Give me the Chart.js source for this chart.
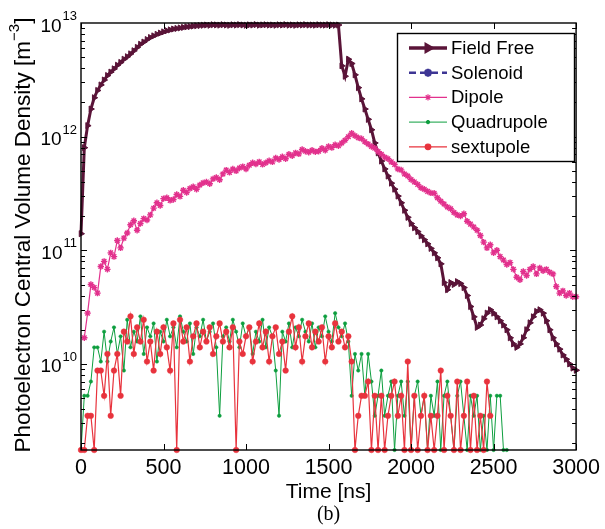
<!DOCTYPE html>
<html>
<head>
<meta charset="utf-8">
<script src="https://cdn.jsdelivr.net/npm/chart.js@4.4.1/dist/chart.umd.min.js"></script>
<style>
  html, body { margin: 0; padding: 0; background: #fff; }
  #wrap { width: 605px; height: 529px; position: relative; }
</style>
</head>
<body>
<div id="wrap"><canvas id="chart"></canvas></div>
<script>
// densities are in units of 1e9 m^-3, sampled every 20 ns
const timeNs = Array.from({ length: 151 }, (_, i) => i * 20);

const fieldFree = [
  140, 800, 1250, 1750, 2200, 2550, 2850, 3150, 3450, 3700,
  3950, 4250, 4500, 4800, 5050, 5350, 5700, 6100, 6500, 6800,
  7150, 7450, 7700, 7950, 8150, 8350, 8550, 8700, 8850, 8950,
  9050, 9150, 9250, 9300, 9400, 9450, 9500, 9550, 9600, 9550,
  9650, 9620, 9580, 9660, 9600, 9550, 9640, 9590, 9670, 9610,
  9560, 9630, 9600, 9680, 9570, 9620, 9650, 9590, 9610, 9560,
  9640, 9600, 9670, 9580, 9620, 9550, 9630, 9600, 9660, 9590,
  9610, 9570, 9640, 9600, 9580, 9650, 9610, 9560, 9600, 4200,
  3400, 4800, 4400, 3500, 2700, 2150, 1750, 1420, 1150, 880,
  720, 610, 520, 450, 390, 345, 300, 262, 225, 195,
  172, 158, 146, 134, 124, 114, 104, 95, 86, 76,
  52, 45, 52, 50, 53, 51, 47, 40, 32, 26,
  21, 22, 25, 28, 30, 28, 26, 24, 22, 20,
  17, 15, 14, 15, 17, 20, 23, 26, 29, 30,
  28, 24, 20, 17, 15, 13.5, 12, 11, 10, 9.2,
  8.8
];

// solenoid density is zero throughout, so nothing shows on the log axis
const solenoid = [];

const dipole = [
  null, 17, 28, 50, 47, 42, 72, 80, 68, 95,
  88, 122, 105, 128, 142, 168, 182, 150, 172, 190,
  185, 205, 235, 262, 248, 285, 290, 275, 280, 310,
  298, 338, 322, 350, 362, 345, 375, 392, 400, 385,
  425, 438, 418, 470, 508, 485, 520, 500, 530, 545,
  520, 560, 590, 575, 600, 570, 590, 615, 600, 650,
  630, 665, 640, 700, 680, 720, 705, 770, 745, 730,
  760, 735, 745, 790, 760, 820, 800, 850, 830, 880,
  930, 1000, 1070, 1020, 980, 960, 900, 860, 820, 790,
  740, 700, 660, 640, 600, 570, 520, 510, 470, 450,
  420, 400, 380, 355, 345, 330, 320, 318, 290, 270,
  255, 240, 232, 215, 205, 200, 210, 180, 170, 160,
  150, 135, 118, 105, 112, 95, 100, 88, 82, 75,
  78, 68, 58, 55, 65, 60, 68, 72, 62, 70,
  66, 68, 64, 62, 48, 42, 44, 40, 42, 39,
  39
];

const quadrupole = [
  1.75, 5.25, 5.25, 7, 14, 14, 10.5, 19.25, 10.5, 15.75,
  21, 12.25, 17.5, 8.75, 24.5, 14, 19.25, 15.75, 26.25, 12.25,
  21, 17.5, 22.75, 10.5, 19.25, 15.75, 24.5, 17.5, 21, 14,
  26.25, 19.25, 15.75, 22.75, 12.25, 21, 17.5, 24.5, 15.75, 19.25,
  22.75, 14, 3.5, 17.5, 21, 15.75, 24.5, 19.25, 14, 22.75,
  17.5, 21, 12.25, 19.25, 15.75, 24.5, 14, 21, 17.5, 8.75,
  3.5, 19.25, 15.75, 22.75, 14, 21, 17.5, 24.5, 19.25, 15.75,
  22.75, 14, 21, 17.5, 26.25, 19.25, 15.75, 28, 21, 17.5,
  22.75, 15.75, 5.25, 12.25, 8.75, 12.25, 5.25, 12.25, 7, 3.5,
  5.25, 8.75, 3.5, 5.25, 7, 1.75, 5.25, 7, 3.5, 7,
  1.75, 5.25, 7, 3.5, 5.25, 1.75, 5.25, 3.5, 7, 1.75,
  5.25, 7, 3.5, 1.75, 5.25, 7, 3.5, 1.75, 5.25, 3.5,
  5.25, 1.75, 3.5, 1.75, 5.25, 1.75, 5.25, 5.25, 1.75, 1.75
];

const sextupole = [
  1.75, 1.75, 3.5, 3.5, 1.75, 8.75, 8.75, 5.25, 12.25, 3.5,
  8.75, 12.25, 5.25, 19.25, 15.75, 26.25, 12.25, 21, 15.75, 24.5,
  10.5, 15.75, 8.75, 19.25, 12.25, 21, 14, 8.75, 22.75, 1.75,
  24.5, 15.75, 21, 10.5, 17.5, 22.75, 14, 19.25, 15.75, 21,
  12.25, 17.5, 22.75, 15.75, 19.25, 14, 21, 1.75, 15.75, 12.25,
  17.5, 21, 10.5, 15.75, 22.75, 14, 19.25, 10.5, 17.5, 21,
  12.25, 15.75, 8.75, 19.25, 26.25, 14, 21, 10.5, 17.5, 22.75,
  14, 19.25, 15.75, 21, 10.5, 17.5, 14, 22.75, 15.75, 19.25,
  14, 17.5, 10.5, 1.75, 3.5, 5.25, 5.25, 7, 1.75, 5.25,
  1.75, 5.25, 1.75, 3.5, 5.25, 7, 3.5, 5.25, 1.75, 10.5,
  1.75, 5.25, 1.75, 3.5, 5.25, 1.75, 3.5, 1.75, 3.5, 8.75,
  1.75, 5.25, 3.5, 1.75, 7, 1.75, 3.5, 7, 1.75, 5.25,
  1.75, 3.5, 1.75, 7, 3.5
];

const seriesNames = ["Field Free", "Solenoid", "Dipole", "Quadrupole", "sextupole"];
const xTicks = [0, 500, 1000, 1500, 2000, 2500, 3000];
const yDecades = [10, 100, 1000, 10000];
const yExponents = ["10", "11", "12", "13"];

const FONT = "'Liberation Sans', Arial, Helvetica, sans-serif";
Chart.defaults.font.family = FONT;
Chart.defaults.color = "#000";

function toPoints(values) {
  return values.map((v, i) => ({ x: timeNs[i], y: v }));
}

const frame = {
  id: "frame",
  afterDraw(chart) {
    const { ctx, chartArea: a } = chart;
    const x = chart.scales.x;
    const y = chart.scales.y;
    ctx.save();

    // box + inward ticks
    ctx.strokeStyle = "#000";
    ctx.lineWidth = 1;
    ctx.beginPath();
    xTicks.forEach((t) => {
      const px = Math.round(x.getPixelForValue(t)) + 0.5;
      ctx.moveTo(px, a.bottom); ctx.lineTo(px, a.bottom - 6);
      ctx.moveTo(px, a.top); ctx.lineTo(px, a.top + 6);
    });
    [1, 10, 100, 1000].forEach((d) => {
      for (let m = 1; m <= 9; m++) {
        const v = m * d;
        if (v < y.min || v > y.max) continue;
        const len = m === 1 ? 6 : 4;
        const py = Math.round(y.getPixelForValue(v)) + 0.5;
        ctx.moveTo(a.left, py); ctx.lineTo(a.left + len, py);
        ctx.moveTo(a.right, py); ctx.lineTo(a.right - len, py);
      }
    });
    ctx.stroke();
    ctx.lineWidth = 1.4;
    ctx.strokeRect(a.left, a.top, a.right - a.left, a.bottom - a.top);

    // y tick labels 10^n
    ctx.fillStyle = "#000";
    ctx.textBaseline = "alphabetic";
    ctx.textAlign = "left";
    yDecades.forEach((v, i) => {
      const py = y.getPixelForValue(v);
      ctx.font = "13px " + FONT;
      const ew = ctx.measureText(yExponents[i]).width;
      const ex = a.left - 4 - ew;
      ctx.fillText(yExponents[i], ex, py - 3);
      ctx.font = "19px " + FONT;
      const bw = ctx.measureText("10").width;
      ctx.fillText("10", ex - 1 - bw, py + 8.5);
    });

    // y title
    ctx.save();
    const main = "Photoelectron Central Volume Density [m";
    const big = "22.5px " + FONT;
    const small = "15px " + FONT;
    ctx.font = big;
    const w1 = ctx.measureText(main).width;
    const w3 = ctx.measureText("]").width;
    ctx.font = small;
    const w2 = ctx.measureText("\u22123").width;
    const total = w1 + w2 + w3;
    ctx.translate(30, 235);
    ctx.rotate(-Math.PI / 2);
    let tx = -total / 2;
    ctx.font = big;
    ctx.fillText(main, tx, 0);
    tx += w1;
    ctx.font = small;
    ctx.fillText("\u22123", tx, -11);
    tx += w2;
    ctx.font = big;
    ctx.fillText("]", tx, 0);
    ctx.restore();

    // x title and panel label
    ctx.textAlign = "center";
    ctx.textBaseline = "middle";
    ctx.font = "21px " + FONT;
    ctx.fillText("Time [ns]", (a.left + a.right) / 2, 492);
    ctx.font = "20px 'Liberation Serif', 'Times New Roman', serif";
    ctx.fillText("(b)", (a.left + a.right) / 2, 515);

    // legend
    const lx = 397.5, ly = 33.5, lw = 177, lh = 128;
    ctx.fillStyle = "#fff";
    ctx.fillRect(lx, ly, lw, lh);
    ctx.strokeStyle = "#000";
    ctx.lineWidth = 1.4;
    ctx.strokeRect(lx, ly, lw, lh);
    chart.data.datasets.forEach((ds, i) => {
      const cy = 48 + i * 24.7;
      ctx.save();
      ctx.strokeStyle = ds.borderColor;
      ctx.lineWidth = ds.legendLineWidth || ds.borderWidth;
      ctx.setLineDash(ds.borderDash || []);
      ctx.beginPath();
      ctx.moveTo(409, cy); ctx.lineTo(447, cy);
      ctx.stroke();
      ctx.setLineDash([]);
      ctx.fillStyle = ds.pointBackgroundColor;
      ctx.strokeStyle = ds.pointBorderColor;
      Chart.helpers.drawPoint(ctx, {
        pointStyle: ds.pointStyle,
        radius: ds.pointRadius,
        rotation: ds.pointRotation || 0,
        borderWidth: ds.pointBorderWidth
      }, 428, cy);
      ctx.restore();
      ctx.fillStyle = "#000";
      ctx.textAlign = "left";
      ctx.textBaseline = "middle";
      ctx.font = "18.5px " + FONT;
      ctx.fillText(ds.label, 451, cy + 1);
    });

    ctx.restore();
  }
};

new Chart(document.getElementById("chart"), {
  type: "line",
  data: {
    datasets: [
      {
        label: seriesNames[0],
        data: toPoints(fieldFree),
        borderColor: "#5a1438",
        borderWidth: 3,
        legendLineWidth: 3.5,
        pointStyle: "triangle",
        pointRotation: 90,
        pointRadius: 3.5,
        pointBackgroundColor: "#5a1438",
        pointBorderColor: "#5a1438",
        pointBorderWidth: 1,
        order: 4
      },
      {
        label: seriesNames[1],
        data: toPoints(solenoid),
        borderColor: "#3d3594",
        borderWidth: 2.5,
        borderDash: [7, 4],
        pointStyle: "star",
        pointRadius: 4,
        pointBackgroundColor: "#3d3594",
        pointBorderColor: "#3d3594",
        pointBorderWidth: 1.5,
        order: 3
      },
      {
        label: seriesNames[2],
        data: toPoints(dipole),
        borderColor: "#e2318d",
        borderWidth: 1.2,
        pointStyle: "star",
        pointRadius: 3.2,
        pointBackgroundColor: "#e2318d",
        pointBorderColor: "#e2318d",
        pointBorderWidth: 1.4,
        order: 2
      },
      {
        label: seriesNames[3],
        data: toPoints(quadrupole),
        borderColor: "#0d9e3e",
        borderWidth: 1,
        pointStyle: "circle",
        pointRadius: 1.7,
        pointBackgroundColor: "#0d9e3e",
        pointBorderColor: "#0d9e3e",
        pointBorderWidth: 0.5,
        order: 1
      },
      {
        label: seriesNames[4],
        data: toPoints(sextupole),
        borderColor: "#e8333d",
        borderWidth: 1.2,
        pointStyle: "circle",
        pointRadius: 2.8,
        pointBackgroundColor: "#e8333d",
        pointBorderColor: "#e8333d",
        pointBorderWidth: 0.5,
        order: 0
      }
    ]
  },
  options: {
    responsive: true,
    maintainAspectRatio: false,
    animation: false,
    devicePixelRatio: 1,
    events: [],
    layout: { padding: { left: 0, right: 25, top: 23, bottom: 0 } },
    elements: { line: { tension: 0 } },
    clip: 6,
    plugins: { legend: { display: false }, tooltip: { enabled: false } },
    scales: {
      x: {
        type: "linear",
        min: 0,
        max: 3000,
        grid: { display: false, drawTicks: false },
        border: { display: false },
        ticks: {
          stepSize: 500,
          padding: 5,
          maxRotation: 0,
          font: { size: 21.5 },
          color: "#000",
          callback: (v) => String(v)
        },
        afterFit: (s) => { s.height = 79; }
      },
      y: {
        type: "logarithmic",
        min: 1.75,
        max: 10000,
        grid: { display: false, drawTicks: false },
        border: { display: false },
        ticks: { display: false },
        afterFit: (s) => { s.width = 81; }
      }
    }
  },
  plugins: [frame]
});
</script>
</body>
</html>
